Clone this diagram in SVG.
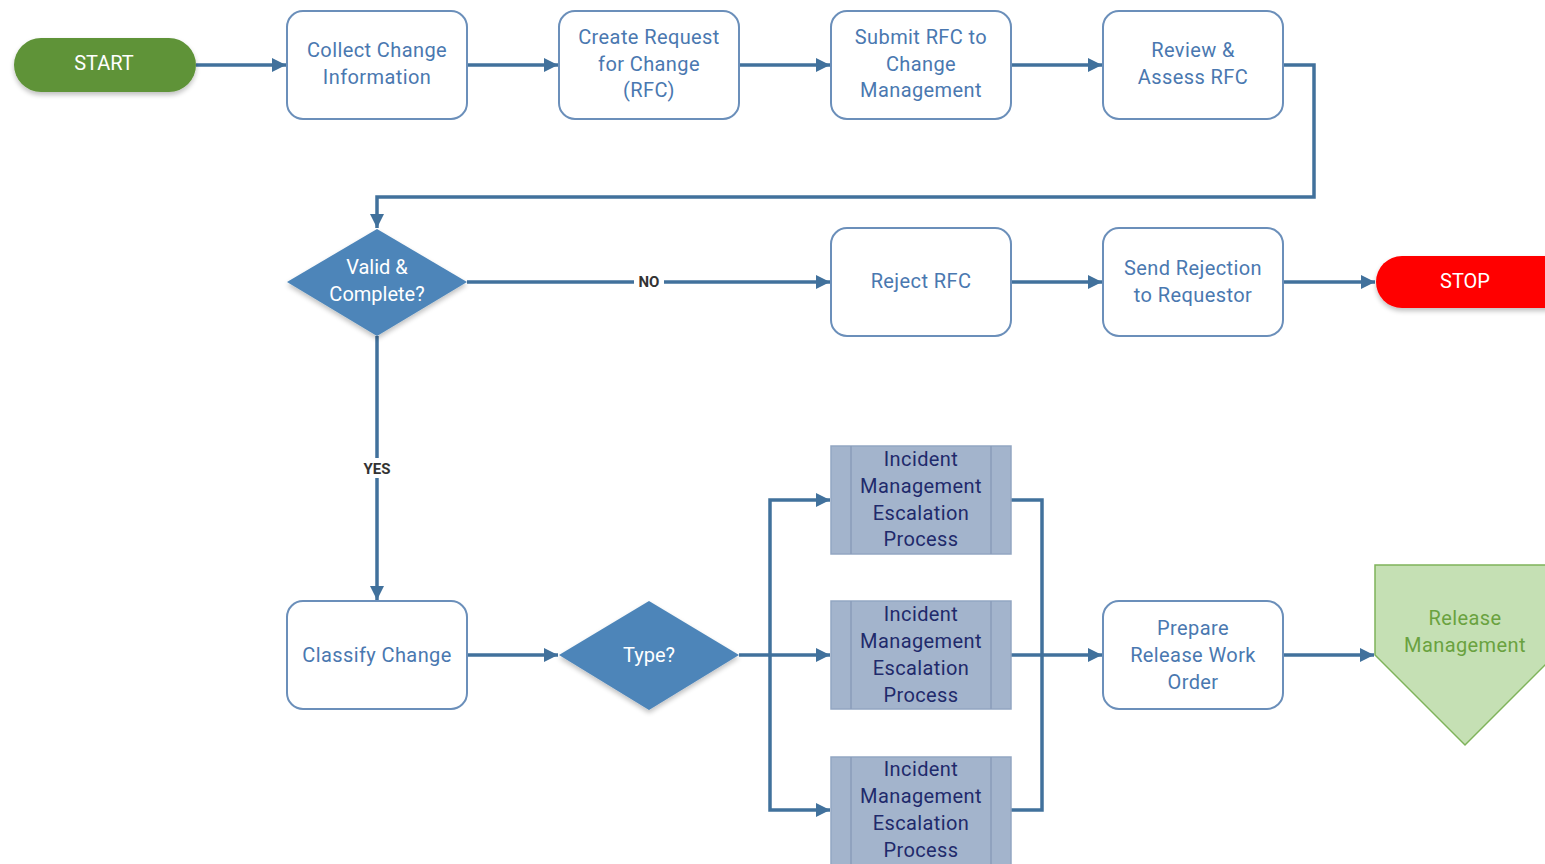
<svg xmlns="http://www.w3.org/2000/svg" width="1545" height="864" viewBox="0 0 1545 864">
<defs>
<marker id="arr" markerUnits="userSpaceOnUse" markerWidth="16" markerHeight="14" refX="14" refY="7" orient="auto">
<path d="M0,0 L14,7 L0,14 Z" fill="#41719c"/>
</marker>
<filter id="sh" x="-20%" y="-20%" width="140%" height="150%">
<feGaussianBlur in="SourceAlpha" stdDeviation="2.5"/>
<feOffset dx="0" dy="3" result="b"/>
<feComponentTransfer><feFuncA type="linear" slope="0.25"/></feComponentTransfer>
<feMerge><feMergeNode/><feMergeNode in="SourceGraphic"/></feMerge>
</filter>
</defs>
<style>
.box{fill:#fff;stroke:#6b8fba;stroke-width:2}
.t{font-family:Roboto,"Liberation Sans",sans-serif;font-size:20px;fill:#4a78b0;text-anchor:middle;letter-spacing:0.4px}
.w{font-family:Roboto,"Liberation Sans",sans-serif;font-size:20px;fill:#fff;text-anchor:middle}
.dia{fill:#4d85b9}
.inc{fill:#a3b4cc;stroke:#93a6c2;stroke-width:1.5}
.it{font-family:Roboto,"Liberation Sans",sans-serif;font-size:20px;fill:#1f2a6b;text-anchor:middle;letter-spacing:0.4px}
.c{fill:none;stroke:#41719c;stroke-width:3.5}
.lb{font-family:Roboto,"Liberation Sans",sans-serif;font-size:15px;font-weight:bold;fill:#333;text-anchor:middle}
.gt{font-family:Roboto,"Liberation Sans",sans-serif;font-size:20px;fill:#6aa23f;text-anchor:middle;letter-spacing:0.4px}
</style>
<rect width="1545" height="864" fill="#fff"/>
<g id="connectors">
<path class="c" d="M196,65 H286" marker-end="url(#arr)"/>
<path class="c" d="M467,65 H558" marker-end="url(#arr)"/>
<path class="c" d="M739,65 H830" marker-end="url(#arr)"/>
<path class="c" d="M1011,65 H1102" marker-end="url(#arr)"/>
<path class="c" d="M1283,65 H1314 V197 H377 V228" marker-end="url(#arr)"/>
<path class="c" d="M467,282 H830" marker-end="url(#arr)"/>
<path class="c" d="M1011,282 H1102" marker-end="url(#arr)"/>
<path class="c" d="M1283,282 H1375" marker-end="url(#arr)"/>
<path class="c" d="M377,336 V600" marker-end="url(#arr)"/>
<path class="c" d="M467,655 H558" marker-end="url(#arr)"/>
<path class="c" d="M739,655 H830" marker-end="url(#arr)"/>
<path class="c" d="M770,655 V500 H830" marker-end="url(#arr)"/>
<path class="c" d="M770,655 V810 H830" marker-end="url(#arr)"/>
<path class="c" d="M1011,500 H1042 V810 H1011"/>
<path class="c" d="M1011,655 H1102" marker-end="url(#arr)"/>
<path class="c" d="M1283,655 H1374" marker-end="url(#arr)"/>
<rect x="634" y="272" width="30" height="20" fill="#fff"/>
<text class="lb" x="649" y="287">NO</text>
<rect x="358" y="458" width="38" height="20" fill="#fff"/>
<text class="lb" x="377" y="474">YES</text>
</g>
<g id="start">
<rect x="14" y="38" width="182" height="54" rx="27" fill="#5f9339" filter="url(#sh)"/>
<text class="w" x="104" y="70">START</text>
</g>
<g id="collect">
<rect class="box" x="287" y="11" width="180" height="108" rx="16"/>
<text class="t" x="377" y="57">Collect Change</text>
<text class="t" x="377" y="84">Information</text>
</g>
<g id="create">
<rect class="box" x="559" y="11" width="180" height="108" rx="16"/>
<text class="t" x="649" y="44">Create Request</text>
<text class="t" x="649" y="71">for Change</text>
<text class="t" x="649" y="97">(RFC)</text>
</g>
<g id="submit">
<rect class="box" x="831" y="11" width="180" height="108" rx="16"/>
<text class="t" x="921" y="44">Submit RFC to</text>
<text class="t" x="921" y="71">Change</text>
<text class="t" x="921" y="97">Management</text>
</g>
<g id="review">
<rect class="box" x="1103" y="11" width="180" height="108" rx="16"/>
<text class="t" x="1193" y="57">Review &amp;</text>
<text class="t" x="1193" y="84">Assess RFC</text>
</g>
<g id="valid">
<path class="dia" d="M377,229 L467,282 L377,336 L287,282 Z" filter="url(#sh)"/>
<text class="w" x="377" y="274">Valid &amp;</text>
<text class="w" x="377" y="301">Complete?</text>
</g>
<g id="reject">
<rect class="box" x="831" y="228" width="180" height="108" rx="16"/>
<text class="t" x="921" y="288">Reject RFC</text>
</g>
<g id="send">
<rect class="box" x="1103" y="228" width="180" height="108" rx="16"/>
<text class="t" x="1193" y="275">Send Rejection</text>
<text class="t" x="1193" y="302">to Requestor</text>
</g>
<g id="stop">
<rect x="1376" y="256" width="200" height="52" rx="26" fill="#ff0000" filter="url(#sh)"/>
<text class="w" x="1465" y="288">STOP</text>
</g>
<g id="classify">
<rect class="box" x="287" y="601" width="180" height="108" rx="16"/>
<text class="t" x="377" y="662">Classify Change</text>
</g>
<g id="type">
<path class="dia" d="M649,601 L739,655 L649,710 L559,655 Z" filter="url(#sh)"/>
<text class="w" x="649" y="662">Type?</text>
</g>
<g id="incident1">
<rect class="inc" x="831" y="446" width="180" height="108"/>
<line x1="851" y1="446" x2="851" y2="554" stroke="#8a9dba" stroke-width="1.5"/>
<line x1="991" y1="446" x2="991" y2="554" stroke="#8a9dba" stroke-width="1.5"/>
<text class="it" x="921" y="466">Incident</text>
<text class="it" x="921" y="493">Management</text>
<text class="it" x="921" y="520">Escalation</text>
<text class="it" x="921" y="546">Process</text>
</g>
<g id="incident2">
<rect class="inc" x="831" y="601" width="180" height="108"/>
<line x1="851" y1="601" x2="851" y2="709" stroke="#8a9dba" stroke-width="1.5"/>
<line x1="991" y1="601" x2="991" y2="709" stroke="#8a9dba" stroke-width="1.5"/>
<text class="it" x="921" y="621">Incident</text>
<text class="it" x="921" y="648">Management</text>
<text class="it" x="921" y="675">Escalation</text>
<text class="it" x="921" y="702">Process</text>
</g>
<g id="incident3">
<rect class="inc" x="831" y="757" width="180" height="112"/>
<line x1="851" y1="757" x2="851" y2="869" stroke="#8a9dba" stroke-width="1.5"/>
<line x1="991" y1="757" x2="991" y2="869" stroke="#8a9dba" stroke-width="1.5"/>
<text class="it" x="921" y="776">Incident</text>
<text class="it" x="921" y="803">Management</text>
<text class="it" x="921" y="830">Escalation</text>
<text class="it" x="921" y="857">Process</text>
</g>
<g id="prepare">
<rect class="box" x="1103" y="601" width="180" height="108" rx="16"/>
<text class="t" x="1193" y="635">Prepare</text>
<text class="t" x="1193" y="662">Release Work</text>
<text class="t" x="1193" y="689">Order</text>
</g>
<g id="release">
<path d="M1375,565 H1555 V655 L1465,745 L1375,655 Z" fill="#c5e0b4" stroke="#7fb35a" stroke-width="1.5"/>
<text class="gt" x="1465" y="625">Release</text>
<text class="gt" x="1465" y="652">Management</text>
</g>
</svg>
